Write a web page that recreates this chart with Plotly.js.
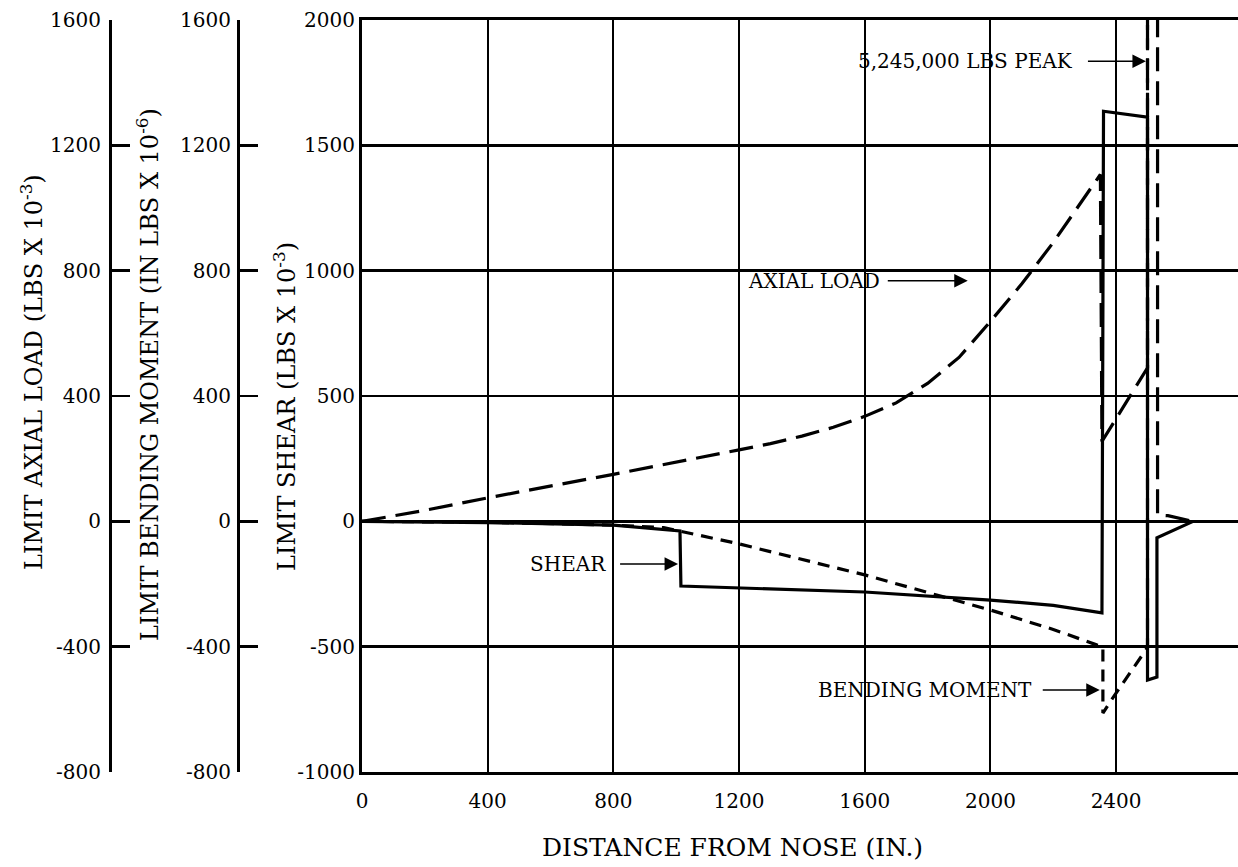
<!DOCTYPE html>
<html>
<head>
<meta charset="utf-8">
<script src="https://cdn.plot.ly/plotly-3.0.1.min.js"></script>
<style>
html,body{margin:0;padding:0;background:#fff;}
#chart{width:1238px;height:867px;}
</style>
</head>
<body>
<div id="chart"></div>
<script>
// Distance from nose (in.) and values for each curve
const distAxial = [0, 200, 400, 800, 1200, 1300, 1400, 1500, 1600, 1700, 1800, 1900, 2000, 2100, 2200, 2300, 2350, 2355, 2500, 2500, 2532, 2532, 2565, 2645];
const axialLoad = [0, 35, 75, 150, 228, 248, 272, 300, 335, 378, 440, 523, 638, 758, 890, 1035, 1107, 255, 490, 2200, 2200, 20, 18, 0];

const distShear = [0, 400, 800, 1012, 1015, 1200, 1600, 2000, 2200, 2355, 2360, 2500, 2500, 2530, 2530, 2645];
const shearLoad = [0, -5, -15, -38, -258, -266, -282, -314, -335, -365, 1636, 1612, -633, -621, -66, 0];

const distBending = [0, 400, 800, 960, 1200, 1600, 2000, 2200, 2340, 2358, 2358, 2385, 2495, 2500, 2500];
const bendingMoment = [0, -3, -12, -20, -72, -171, -283, -345, -395, -400, -612, -570, -410, -400, 2200];

const xTicks = [0, 400, 800, 1200, 1600, 2000, 2400];
const xTickText = ['0', '400', '800', '1200', '1600', '2000', '2400'];
const shearTicks = [-1000, -500, 0, 500, 1000, 1500, 2000];
const shearTickText = ['-1000', '-500', '0', '500', '1000', '1500', '2000'];
const loadTicks = [-800, -400, 0, 400, 800, 1200, 1600];
const loadTickText = ['-800', '-400', '0', '400', '800', '1200', '1600'];

const FONT = 'DejaVu Serif, Liberation Serif, serif';

const traces = [
  {x: distAxial, y: axialLoad, yaxis: 'y3', mode: 'lines', name: 'AXIAL LOAD',
   line: {color: '#000', width: 3.2, dash: '24px,10px'}},
  {x: distBending, y: bendingMoment, yaxis: 'y2', mode: 'lines', name: 'BENDING MOMENT',
   line: {color: '#000', width: 3.2, dash: '12px,8px'}},
  {x: distShear, y: shearLoad, yaxis: 'y', mode: 'lines', name: 'SHEAR',
   line: {color: '#000', width: 3.2}}
];

const labelBase = {xref: 'x', yref: 'y', showarrow: true, arrowhead: 2, arrowsize: 1.8, arrowwidth: 1.5, arrowcolor: '#000', ay: 0,
  xanchor: 'right', yanchor: 'middle', font: {family: FONT, size: 20, color: '#000'}};
const titleBase = {xref: 'paper', yref: 'paper', showarrow: false, xanchor: 'center', yanchor: 'middle', font: {family: FONT, size: 24, color: '#000'}};

const layout = {
  width: 1238, height: 867,
  margin: {l: 0, r: 0, t: 20, b: 95},
  paper_bgcolor: '#fff', plot_bgcolor: '#fff',
  showlegend: false,
  font: {family: FONT, size: 20, color: '#000'},
  xaxis: {
    domain: [362/1238, 1], range: [0, 2788], tickvals: xTicks, ticktext: xTickText,
    showgrid: true, gridcolor: '#000', gridwidth: 2,
    showline: true, linecolor: '#000', linewidth: 3, mirror: true,
    ticks: '', ticklabelstandoff: 9, zeroline: false,
    tickfont: {family: FONT, size: 20, color: '#000'}
  },
  yaxis: {
    range: [-1000, 2000], tickvals: shearTicks, ticktext: shearTickText,
    showgrid: true, gridcolor: '#000', gridwidth: 2.5,
    zeroline: true, zerolinecolor: '#000', zerolinewidth: 3,
    showline: true, linecolor: '#000', linewidth: 3,
    ticks: '', ticklabelstandoff: 0,
    tickfont: {family: FONT, size: 20, color: '#000'}
  },
  yaxis2: {
    overlaying: 'y', anchor: 'free', position: 238/1238, side: 'left',
    range: [-800, 1600], tickvals: loadTicks, ticktext: loadTickText,
    showgrid: false, zeroline: false,
    showline: true, linecolor: '#000', linewidth: 3,
    ticks: 'inside', ticklen: 18, tickwidth: 2.5, tickcolor: '#000', ticklabelstandoff: 2,
    tickfont: {family: FONT, size: 20, color: '#000'}
  },
  yaxis3: {
    overlaying: 'y', anchor: 'free', position: 110/1238, side: 'left',
    range: [-800, 1600], tickvals: loadTicks, ticktext: loadTickText,
    showgrid: false, zeroline: false,
    showline: true, linecolor: '#000', linewidth: 3,
    ticks: 'inside', ticklen: 18, tickwidth: 2.5, tickcolor: '#000', ticklabelstandoff: 4,
    tickfont: {family: FONT, size: 20, color: '#000'}
  },
  annotations: [
    // axis titles
    Object.assign({}, titleBase, {x: 32/1238, y: (772-372)/752, text: 'LIMIT AXIAL LOAD (LBS X 10<sup>-3</sup>)', textangle: -90}),
    Object.assign({}, titleBase, {x: 148/1238, y: (772-375)/752, text: 'LIMIT BENDING MOMENT (IN LBS X 10<sup>-6</sup>)', textangle: -90}),
    Object.assign({}, titleBase, {x: 285/1238, y: (772-407)/752, text: 'LIMIT SHEAR (LBS X 10<sup>-3</sup>)', textangle: -90}),
    Object.assign({}, titleBase, {x: 732/1238, y: (772-848)/752, text: 'DISTANCE FROM NOSE (IN.)', font: {family: FONT, size: 25, color: '#000'}}),
    // curve labels with arrows
    Object.assign({}, labelBase, {x: 2495, y: 1835, ax: -58, borderpad: 14, text: '5,245,000 LBS PEAK'}),
    Object.assign({}, labelBase, {x: 1928, y: 960, ax: -80, borderpad: 7, text: 'AXIAL LOAD'}),
    Object.assign({}, labelBase, {x: 1006, y: -170, ax: -58, borderpad: 13, text: 'SHEAR'}),
    Object.assign({}, labelBase, {x: 2348, y: -673, ax: -57, borderpad: 10, text: 'BENDING MOMENT'})
  ]
};

Plotly.newPlot('chart', traces, layout, {staticPlot: true, displayModeBar: false});
</script>
</body>
</html>
